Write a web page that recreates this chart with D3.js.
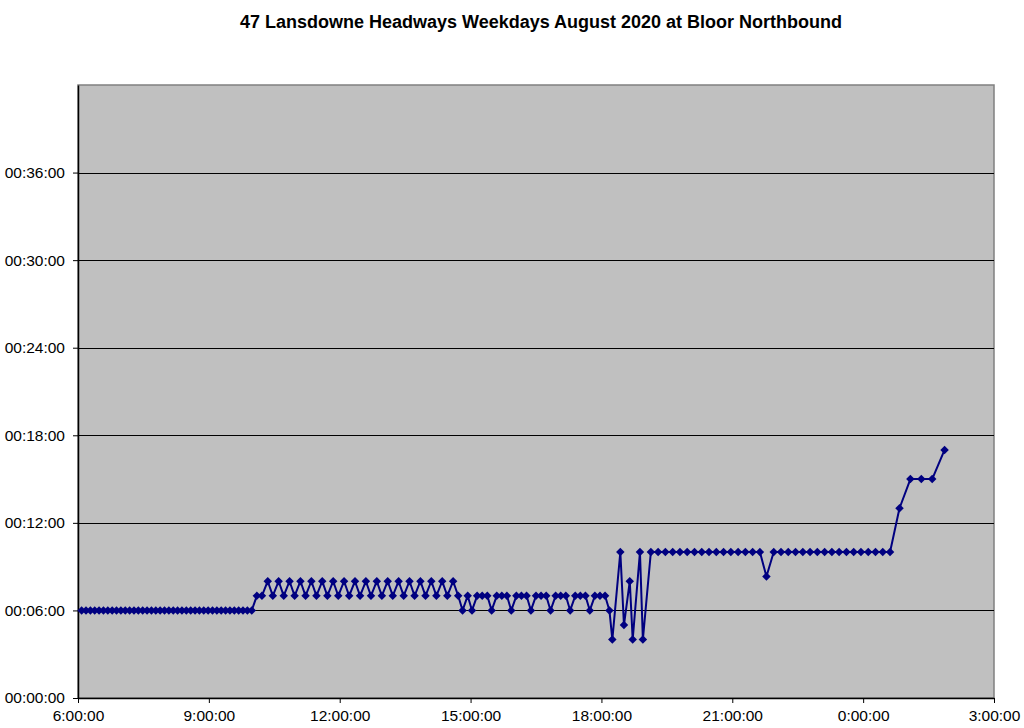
<!DOCTYPE html>
<html>
<head>
<meta charset="utf-8">
<script src="https://cdn.jsdelivr.net/npm/d3@7"></script>
<style>
  html, body { margin: 0; padding: 0; background: #ffffff; }
  svg { display: block; }
  text { font-family: "Liberation Sans", Arial, sans-serif; }
</style>
</head>
<body>
<svg id="chart" width="1024" height="728"></svg>
<script>
// ---- Data (times as H:MM, hours past 24 = after midnight; headways in minutes) ----
const title = "47 Lansdowne Headways Weekdays August 2020 at Bloor Northbound";

const times = [
  "6:05","6:11","6:17","6:23","6:29","6:35","6:41","6:47","6:53","6:59",
  "7:05","7:11","7:17","7:23","7:29","7:35","7:41","7:47","7:53","7:59",
  "8:05","8:11","8:17","8:23","8:29","8:35","8:41","8:47","8:53","8:59",
  "9:05","9:11","9:17","9:23","9:29","9:35","9:41","9:47","9:53","9:59",
  "10:06","10:13",
  "10:21","10:28","10:36","10:43","10:51","10:58","11:06","11:13","11:21","11:28",
  "11:36","11:43","11:51","11:58","12:06","12:13","12:21","12:28","12:36","12:43",
  "12:51","12:58","13:06","13:13","13:21","13:28","13:36","13:43","13:51","13:58",
  "14:06","14:13","14:21","14:28","14:36",
  "14:43","14:49","14:56","15:02",
  "15:09","15:16","15:23","15:29","15:36","15:43","15:50","15:56",
  "16:03","16:10","16:17","16:23","16:30","16:37","16:44","16:50",
  "16:57","17:04","17:11","17:17","17:24","17:31","17:38","17:44",
  "17:51","17:58","18:05","18:11",
  "18:15","18:26","18:31","18:39","18:43","18:53","18:57","19:08",
  "19:18","19:28","19:38","19:48","19:58","20:08","20:18","20:28","20:38","20:48",
  "20:58","21:08","21:18","21:28","21:38",
  "21:47",
  "21:57","22:07","22:17","22:27","22:37","22:47","22:57","23:07","23:17","23:27",
  "23:37","23:47","23:57","24:07","24:17","24:27","24:37",
  "24:50","25:05","25:20","25:35","25:52"
];

const headways = [
  6,6,6,6,6,6,6,6,6,6,
  6,6,6,6,6,6,6,6,6,6,
  6,6,6,6,6,6,6,6,6,6,
  6,6,6,6,6,6,6,6,6,6,
  7,7,
  8,7,8,7,8,7,8,7,8,7,
  8,7,8,7,8,7,8,7,8,7,
  8,7,8,7,8,7,8,7,8,7,
  8,7,8,7,8,
  7,6,7,6,
  7,7,7,6,7,7,7,6,
  7,7,7,6,7,7,7,6,
  7,7,7,6,7,7,7,6,
  7,7,7,6,
  4,10,5,8,4,10,4,10,
  10,10,10,10,10,10,10,10,10,10,
  10,10,10,10,10,
  8.33,
  10,10,10,10,10,10,10,10,10,10,
  10,10,10,10,10,10,10,
  13,15,15,15,17
];

const xTickHours = [6, 9, 12, 15, 18, 21, 24, 27];
const yTickMinutes = [0, 6, 12, 18, 24, 30, 36];

// ---- Layout ----
const svg = d3.select("#chart");
const mLeft = 78, mRight = 994, mTop = 85, mBottom = 698;

const parseT = s => { const [h, m] = s.split(":").map(Number); return h + m / 60; };
const data = times.map((t, i) => ({ x: parseT(t), y: headways[i] }));

const x = d3.scaleLinear().domain([6, 27]).range([mLeft, mRight]);
const y = d3.scaleLinear().domain([0, 42]).range([mBottom, mTop]);

// plot background
svg.append("rect")
  .attr("x", mLeft).attr("y", mTop)
  .attr("width", mRight - mLeft).attr("height", mBottom - mTop)
  .attr("fill", "#c0c0c0")
  .attr("stroke", "#808080").attr("stroke-width", 1.5);

// gridlines
svg.append("g").selectAll("line")
  .data(yTickMinutes.filter(d => d > 0))
  .join("line")
  .attr("x1", mLeft).attr("x2", mRight)
  .attr("y1", d => Math.round(y(d)) + 0.5).attr("y2", d => Math.round(y(d)) + 0.5)
  .attr("stroke", "#000").attr("stroke-width", 1);

// axes
const pad2 = n => String(n).padStart(2, "0");
const yAxis = d3.axisLeft(y).tickValues(yTickMinutes)
  .tickFormat(d => "00:" + pad2(d) + ":00").tickSize(5).tickSizeOuter(0).tickPadding(8);
const xAxis = d3.axisBottom(x).tickValues(xTickHours)
  .tickFormat(d => (d % 24) + ":00:00").tickSize(5).tickSizeOuter(0).tickPadding(7);

const gy = svg.append("g").attr("transform", `translate(${mLeft},0)`).call(yAxis);
const gx = svg.append("g").attr("transform", `translate(0,${mBottom})`).call(xAxis);
[gy, gx].forEach(g => {
  g.select(".domain").attr("stroke", "#000").attr("stroke-width", 1.5);
  g.selectAll(".tick line").attr("stroke", "#000");
  g.selectAll("text").attr("fill", "#000")
    .style("font-family", "'Liberation Sans', Arial, sans-serif")
    .style("font-size", "15.5px");
});

// line
const line = d3.line().x(d => x(d.x)).y(d => y(d.y));
svg.append("path").datum(data)
  .attr("d", line)
  .attr("fill", "none")
  .attr("stroke", "#000080")
  .attr("stroke-width", 2)
  .attr("stroke-linejoin", "round");

// diamond markers
const diamond = d3.symbol().type(d3.symbolDiamond2).size(46);
svg.append("g").selectAll("path")
  .data(data)
  .join("path")
  .attr("transform", d => `translate(${x(d.x)},${y(d.y)})`)
  .attr("d", diamond)
  .attr("fill", "#000080");

// title
svg.append("text")
  .attr("x", 541).attr("y", 28)
  .attr("text-anchor", "middle")
  .style("font-weight", "bold")
  .style("font-size", "18px")
  .attr("fill", "#000")
  .text(title);
</script>
</body>
</html>
